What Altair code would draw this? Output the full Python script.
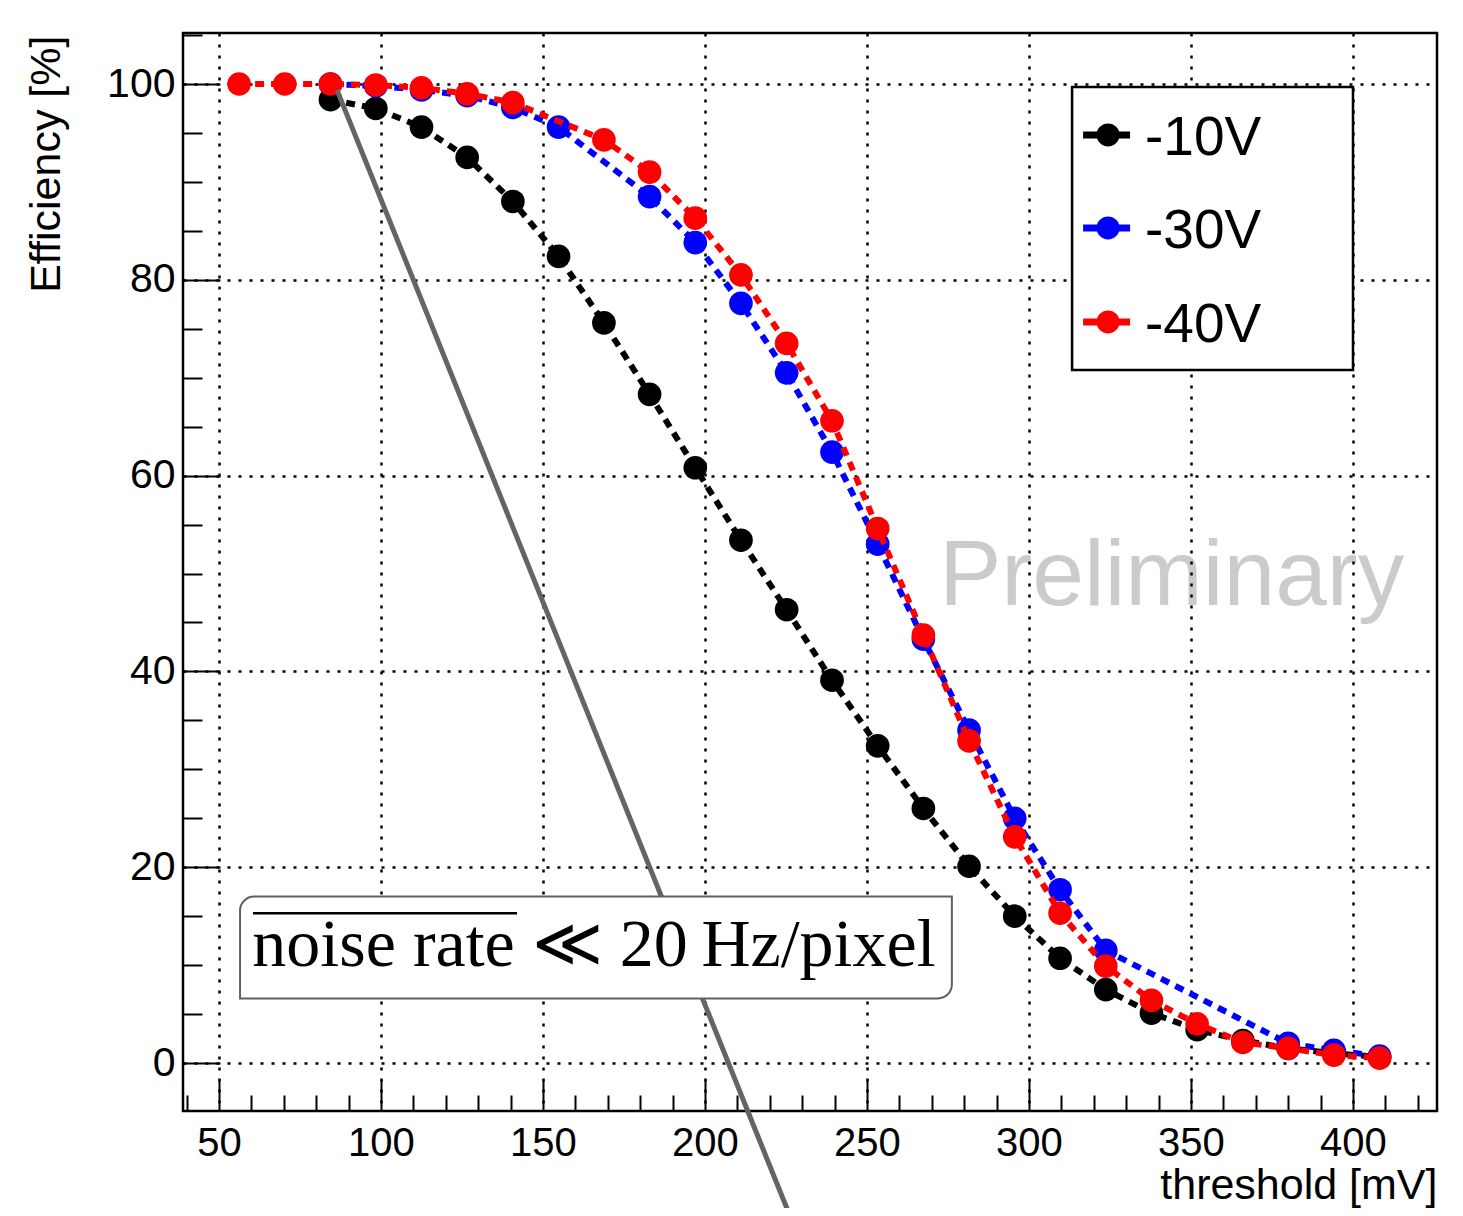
import altair as alt
import pandas as pd

# ---------------- data ----------------
threshold_mV = [56.2, 70.3, 84.4, 98.4, 112.5, 126.6, 140.7, 154.8, 168.8, 182.9,
                197.0, 211.1, 225.2, 239.2, 253.3, 267.4, 281.5, 295.6, 309.6, 323.7,
                337.8, 351.9, 366.0, 380.0, 394.1, 408.2]
eff_m10V = [None, None, 98.4, 97.5, 95.6, 92.5, 88.0, 82.4, 75.6, 68.3,
            60.8, 53.4, 46.3, 39.1, 32.4, 26.0, 20.1, 15.0, 10.7, 7.5,
            5.1, 3.4, 2.3, 1.5, 1.0, 0.6]
eff_m30V = [None, None, 100.0, 99.8, 99.4, 98.8, 97.6, 95.6, None, 88.5,
            83.8, 77.6, 70.5, 62.4, 53.0, 43.3, 34.0, 25.0, 17.7, 11.5,
            None, None, None, 2.0, 1.3, 0.7]
eff_m40V = [100.0, 100.0, 100.0, 99.9, 99.6, 99.0, 98.1, None, 94.3, 91.0,
            86.3, 80.5, 73.5, 65.6, 54.6, 43.7, 32.9, 23.1, 15.3, 9.9,
            6.4, 4.0, 2.1, 1.5, 0.8, 0.5]

series_names = ["-10V", "-30V", "-40V"]
series_colors = ["#000000", "#0000ff", "#ff0000"]

x_major_ticks = [50, 100, 150, 200, 250, 300, 350, 400]
x_all_ticks = [40, 50, 60, 70, 80, 90, 100, 110, 120, 130, 140, 150, 160, 170, 180, 190,
               200, 210, 220, 230, 240, 250, 260, 270, 280, 290, 300, 310, 320, 330,
               340, 350, 360, 370, 380, 390, 400, 410, 420]
y_major_ticks = [0, 20, 40, 60, 80, 100]
y_all_ticks = [0, 5, 10, 15, 20, 25, 30, 35, 40, 45, 50, 55, 60, 65, 70, 75, 80, 85,
               90, 95, 100, 105]

x_title = "threshold [mV]"
y_title = "Efficiency [%]"
noise_label = "noise rate \u226a 20\u2009Hz/pixel"
prelim_label = "Preliminary"

# annotation anchors (in data units)
guide_line = {"x1": [86.4], "y1": [99.4], "x2": [226.2], "y2": [-15.6]}
noise_box = {"x1": [56.5], "x2": [276.2], "y1": [17.0], "y2": [6.6]}
noise_overline = {"x1": [60.5], "x2": [142.0], "y": [15.3]}
noise_text_pos = {"x": [60.3], "y": [9.9]}
prelim_pos = {"x": [272.3], "y": [46.8]}
legend_box = {"x1": [313.3], "x2": [400.0], "y1": [99.7], "y2": [70.8]}
legend_sym_x = 324.4
legend_dash_x = [316.7, 331.2]
legend_sym_y = [94.8, 85.3, 75.7]
legend_text_x = 335.8
legend_text_y = [92.7, 83.2, 73.6]

# ---------------- chart ----------------
W, H = 1254, 1078
FONT = "Liberation Sans"
X_DOMAIN = [38.89, 425.93]
Y_DOMAIN = [-4.90, 105.21]
xs = alt.Scale(domain=X_DOMAIN, nice=False, zero=False)
ys = alt.Scale(domain=Y_DOMAIN, nice=False, zero=False)
color_scale = alt.Scale(domain=series_names, range=series_colors)

x_axis_main = alt.Axis(
    orient="bottom", values=x_major_ticks, format="d",
    labelFont=FONT, labelFontSize=40, labelColor="black", labelPadding=12, labelFlush=False,
    ticks=False, tickSize=0, domain=False,
    grid=True, gridColor="black", gridDash=[3, 8], gridWidth=2.5, gridOpacity=1,
    title=x_title, titleFont=FONT, titleFontSize=43, titleFontWeight="normal",
    titleColor="black", titleX=W, titleY=87, titleAlign="right", titleBaseline="alphabetic",
)
x_axis_ticks = alt.Axis(
    orient="top", offset=-H, values=x_all_ticks, labels=False, domain=False, grid=False,
    ticks=True, tickColor="black", tickWidth=2,
    tickSize={"condition": {"test": "datum.value % 50 === 0", "value": 32}, "value": 16},
    title=None,
)
y_axis_main = alt.Axis(
    orient="left", values=y_major_ticks, format="d",
    labelFont=FONT, labelFontSize=41, labelColor="black", labelPadding=8, labelFlush=False,
    ticks=False, tickSize=0, domain=False,
    grid=True, gridColor="black", gridDash=[3, 8], gridWidth=2.5, gridOpacity=1,
    title=y_title, titleFont=FONT, titleFontSize=43, titleFontWeight="normal",
    titleColor="black", titleX=-124, titleY=2, titleAlign="right",
    titleBaseline="alphabetic", titleAngle=270,
)
y_axis_ticks = alt.Axis(
    orient="right", offset=-W, values=y_all_ticks, labels=False, domain=False, grid=False,
    ticks=True, tickColor="black", tickWidth=2,
    tickSize={"condition": {"test": "datum.value % 20 === 0", "value": 37}, "value": 19},
    title=None,
)

layers = []
first = True
for name, color, vals in zip(series_names, series_colors, [eff_m10V, eff_m30V, eff_m40V]):
    d = pd.DataFrame({"threshold": [t for t, v in zip(threshold_mV, vals) if v is not None],
                      "eff": [v for v in vals if v is not None]})
    line = alt.Chart(d).mark_line(strokeDash=[9, 7], strokeWidth=6, color=color).encode(
        x=alt.X("threshold:Q", scale=xs, axis=x_axis_main if first else None),
        y=alt.Y("eff:Q", scale=ys, axis=y_axis_main if first else None),
        order="threshold:Q",
    )
    pts = alt.Chart(d).mark_circle(size=560, opacity=1, color=color).encode(
        x=alt.X("threshold:Q", scale=xs, axis=x_axis_ticks if first else None),
        y=alt.Y("eff:Q", scale=ys, axis=y_axis_ticks if first else None),
    )
    layers += [line, pts]
    first = False

prelim = alt.Chart(pd.DataFrame({**prelim_pos, "t": [prelim_label]})).mark_text(
    align="left", baseline="alphabetic", font=FONT, fontSize=93, color="black", opacity=0.2
).encode(x=alt.X("x:Q", scale=xs, axis=None), y=alt.Y("y:Q", scale=ys, axis=None), text="t:N")

guide = alt.Chart(pd.DataFrame(guide_line)).mark_rule(
    color="#646464", strokeWidth=5, clip=False
).encode(x=alt.X("x1:Q", scale=xs, axis=None), x2="x2:Q",
         y=alt.Y("y1:Q", scale=ys, axis=None), y2="y2:Q")

nbox = alt.Chart(pd.DataFrame(noise_box)).mark_rect(
    fill="white", stroke="#606060", strokeWidth=2,
    cornerRadiusTopLeft=14, cornerRadiusBottomRight=14
).encode(x=alt.X("x1:Q", scale=xs, axis=None), x2="x2:Q",
         y=alt.Y("y1:Q", scale=ys, axis=None), y2="y2:Q")

nover = alt.Chart(pd.DataFrame(noise_overline)).mark_rule(
    color="black", strokeWidth=2.5
).encode(x=alt.X("x1:Q", scale=xs, axis=None), x2="x2:Q",
         y=alt.Y("y:Q", scale=ys, axis=None))

ntext = alt.Chart(pd.DataFrame({**noise_text_pos, "t": [noise_label]})).mark_text(
    align="left", baseline="alphabetic", font="Liberation Serif", fontSize=68, color="black"
).encode(x=alt.X("x:Q", scale=xs, axis=None), y=alt.Y("y:Q", scale=ys, axis=None), text="t:N")

lbox = alt.Chart(pd.DataFrame(legend_box)).mark_rect(
    fill="white", stroke="black", strokeWidth=2.5
).encode(x=alt.X("x1:Q", scale=xs, axis=None), x2="x2:Q",
         y=alt.Y("y1:Q", scale=ys, axis=None), y2="y2:Q")

leg_df = pd.DataFrame({
    "series": series_names,
    "xs": [legend_sym_x] * 3,
    "xd1": [legend_dash_x[0]] * 3,
    "xd2": [legend_dash_x[1]] * 3,
    "ys": legend_sym_y,
    "xt": [legend_text_x] * 3,
    "yt": legend_text_y,
})
ldash = alt.Chart(leg_df).mark_rule(strokeWidth=7).encode(
    x=alt.X("xd1:Q", scale=xs, axis=None), x2="xd2:Q",
    y=alt.Y("ys:Q", scale=ys, axis=None),
    color=alt.Color("series:N", scale=color_scale, legend=None),
)
lpts = alt.Chart(leg_df).mark_circle(size=531, opacity=1).encode(
    x=alt.X("xs:Q", scale=xs, axis=None),
    y=alt.Y("ys:Q", scale=ys, axis=None),
    color=alt.Color("series:N", scale=color_scale, legend=None),
)
ltext = alt.Chart(leg_df).mark_text(
    align="left", baseline="alphabetic", font=FONT, fontSize=55, color="black"
).encode(x=alt.X("xt:Q", scale=xs, axis=None), y=alt.Y("yt:Q", scale=ys, axis=None),
         text="series:N")

chart = alt.layer(
    prelim, *layers, guide, nbox, nover, ntext, lbox, ldash, lpts, ltext
).resolve_axis(x="independent", y="independent").properties(
    width=W, height=H,
    padding={"left": 175, "top": 25, "right": 16, "bottom": 97},
    autosize=alt.AutoSizeParams(type="none"),
    background="white",
).configure_view(stroke="black", strokeWidth=2.5)

chart.save("out.html", embed_options={"renderer": "svg", "actions": False})
